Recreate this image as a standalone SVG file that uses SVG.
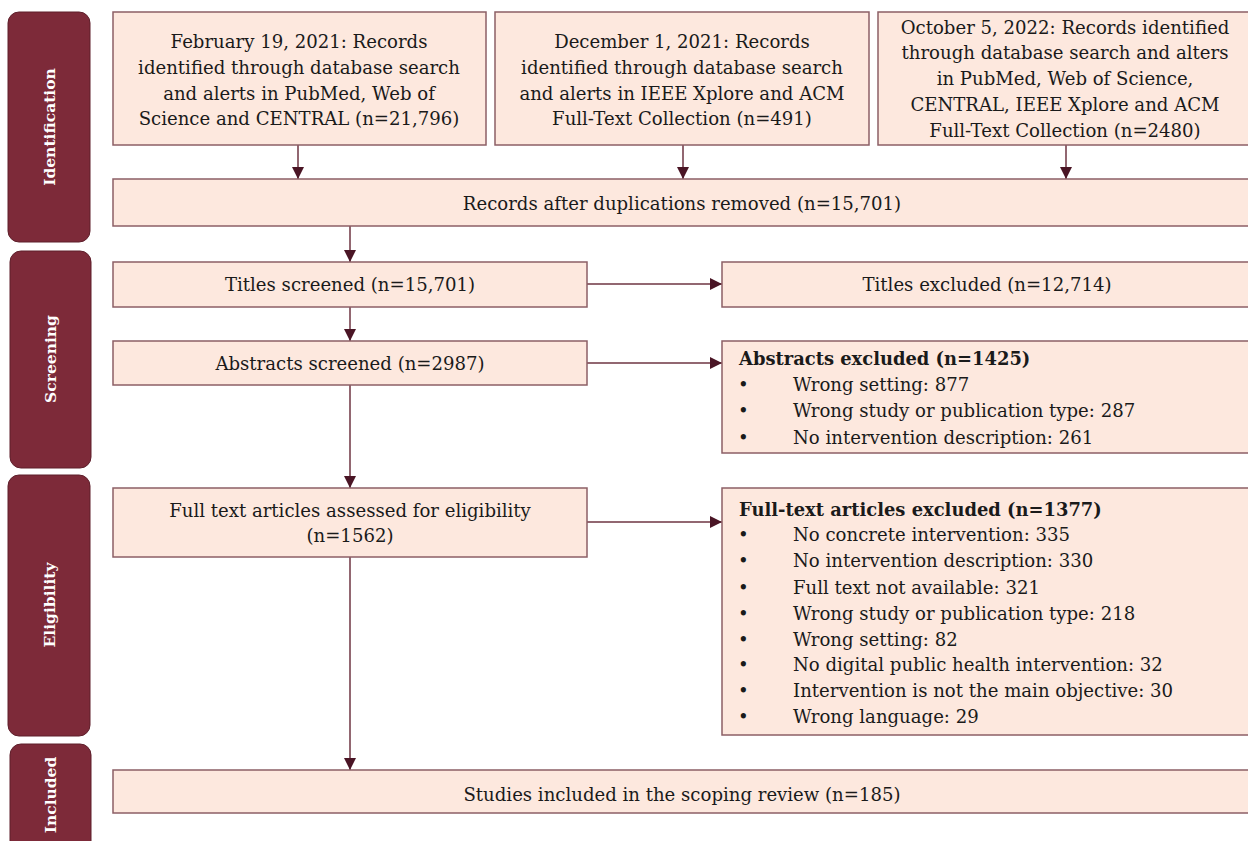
<svg xmlns="http://www.w3.org/2000/svg" width="1248" height="841" viewBox="0 0 1248 841">
<style>
.bx{fill:#fde8de;stroke:#8c5f66;stroke-width:1.5}
.ph{fill:#7d2a39;stroke:#5e1f2b;stroke-width:1}
.t{font-family:"DejaVu Serif",serif;font-size:18.1px;fill:#1a1a1a}
.c{text-anchor:middle}
.b{font-weight:bold;font-size:17.9px}
.pl{font-family:"DejaVu Serif",serif;font-size:15.5px;font-weight:bold;fill:#ffffff;text-anchor:middle}
.ln{stroke:#6e3442;stroke-width:1.5;fill:none;marker-end:url(#ah)}
</style>
<defs>
<marker id="ah" viewBox="0 0 12 12" refX="12" refY="6" markerWidth="12" markerHeight="12" markerUnits="userSpaceOnUse" orient="auto">
<path d="M0,0 L12,6 L0,12 Z" fill="#4a1525"/>
</marker>
</defs>
<rect width="1248" height="841" fill="#ffffff"/>
<g id="phase-identification"><rect class="ph" x="8" y="12" width="82" height="230" rx="11"/><text class="pl" transform="translate(55,127) rotate(-90)">Identification</text></g>
<g id="phase-screening"><rect class="ph" x="10" y="251" width="81" height="217" rx="11"/><text class="pl" transform="translate(56,359) rotate(-90)">Screening</text></g>
<g id="phase-eligibility"><rect class="ph" x="8" y="475" width="82" height="261" rx="11"/><text class="pl" transform="translate(55,605) rotate(-90)">Eligibility</text></g>
<g id="phase-included"><rect class="ph" x="10" y="744" width="81" height="110" rx="11"/><text class="pl" transform="translate(56,795) rotate(-90)">Included</text></g>

<g id="connectors">
<line class="ln" x1="298" y1="145" x2="298" y2="179"/>
<line class="ln" x1="683" y1="145" x2="683" y2="179"/>
<line class="ln" x1="1066" y1="145" x2="1066" y2="179"/>
<line class="ln" x1="350" y1="226" x2="350" y2="262"/>
<line class="ln" x1="587" y1="284" x2="722" y2="284"/>
<line class="ln" x1="350" y1="307" x2="350" y2="341"/>
<line class="ln" x1="587" y1="363" x2="722" y2="363"/>
<line class="ln" x1="350" y1="385" x2="350" y2="488"/>
<line class="ln" x1="587" y1="522" x2="722" y2="522"/>
<line class="ln" x1="350" y1="557" x2="350" y2="770"/>
</g>

<g id="n-feb2021"><rect class="bx" x="113" y="12" width="373" height="133"/>
<text class="t c"><tspan x="299" y="48">February 19, 2021: Records</tspan><tspan x="299" y="74">identified through database search</tspan><tspan x="299" y="100">and alerts in PubMed, Web of</tspan><tspan x="299" y="125">Science and CENTRAL (n=21,796)</tspan></text></g>
<g id="n-dec2021"><rect class="bx" x="495" y="12" width="374" height="133"/>
<text class="t c"><tspan x="682" y="48">December 1, 2021: Records</tspan><tspan x="682" y="74">identified through database search</tspan><tspan x="682" y="100">and alerts in IEEE Xplore and ACM</tspan><tspan x="682" y="125">Full-Text Collection (n=491)</tspan></text></g>
<g id="n-oct2022"><rect class="bx" x="878" y="12" width="375" height="133"/>
<text class="t c"><tspan x="1065" y="34">October 5, 2022: Records identified</tspan><tspan x="1065" y="59">through database search and alters</tspan><tspan x="1065" y="85">in PubMed, Web of Science,</tspan><tspan x="1065" y="111">CENTRAL, IEEE Xplore and ACM</tspan><tspan x="1065" y="137">Full-Text Collection (n=2480)</tspan></text></g>
<g id="n-dedup"><rect class="bx" x="113" y="179" width="1140" height="47"/>
<text class="t c" x="682" y="210">Records after duplications removed (n=15,701)</text></g>
<g id="n-titles"><rect class="bx" x="113" y="262" width="474" height="45"/>
<text class="t c" x="350" y="291">Titles screened (n=15,701)</text></g>
<g id="n-titles-ex"><rect class="bx" x="722" y="262" width="531" height="45"/>
<text class="t c" x="987" y="291">Titles excluded (n=12,714)</text></g>
<g id="n-abstracts"><rect class="bx" x="113" y="341" width="474" height="44"/>
<text class="t c" x="350" y="370">Abstracts screened (n=2987)</text></g>
<g id="n-abstracts-ex"><rect class="bx" x="722" y="341" width="531" height="112"/>
<text class="t b" x="739" y="365">Abstracts excluded (n=1425)</text>
<text class="t"><tspan x="738" y="391">•</tspan><tspan x="793" y="391">Wrong setting: 877</tspan></text>
<text class="t"><tspan x="738" y="417">•</tspan><tspan x="793" y="417">Wrong study or publication type: 287</tspan></text>
<text class="t"><tspan x="738" y="444">•</tspan><tspan x="793" y="444">No intervention description: 261</tspan></text></g>
<g id="n-fulltext"><rect class="bx" x="113" y="488" width="474" height="69"/>
<text class="t c"><tspan x="350" y="517">Full text articles assessed for eligibility</tspan><tspan x="350" y="542">(n=1562)</tspan></text></g>
<g id="n-fulltext-ex"><rect class="bx" x="722" y="488" width="531" height="247"/>
<text class="t b" x="739" y="516">Full-text articles excluded (n=1377)</text>
<text class="t"><tspan x="738" y="541">•</tspan><tspan x="793" y="541">No concrete intervention: 335</tspan></text>
<text class="t"><tspan x="738" y="567">•</tspan><tspan x="793" y="567">No intervention description: 330</tspan></text>
<text class="t"><tspan x="738" y="594">•</tspan><tspan x="793" y="594">Full text not available: 321</tspan></text>
<text class="t"><tspan x="738" y="620">•</tspan><tspan x="793" y="620">Wrong study or publication type: 218</tspan></text>
<text class="t"><tspan x="738" y="646">•</tspan><tspan x="793" y="646">Wrong setting: 82</tspan></text>
<text class="t"><tspan x="738" y="671">•</tspan><tspan x="793" y="671">No digital public health intervention: 32</tspan></text>
<text class="t"><tspan x="738" y="697">•</tspan><tspan x="793" y="697">Intervention is not the main objective: 30</tspan></text>
<text class="t"><tspan x="738" y="723">•</tspan><tspan x="793" y="723">Wrong language: 29</tspan></text></g>
<g id="n-included"><rect class="bx" x="113" y="770" width="1140" height="43"/>
<text class="t c" x="682" y="801">Studies included in the scoping review (n=185)</text></g>
</svg>
